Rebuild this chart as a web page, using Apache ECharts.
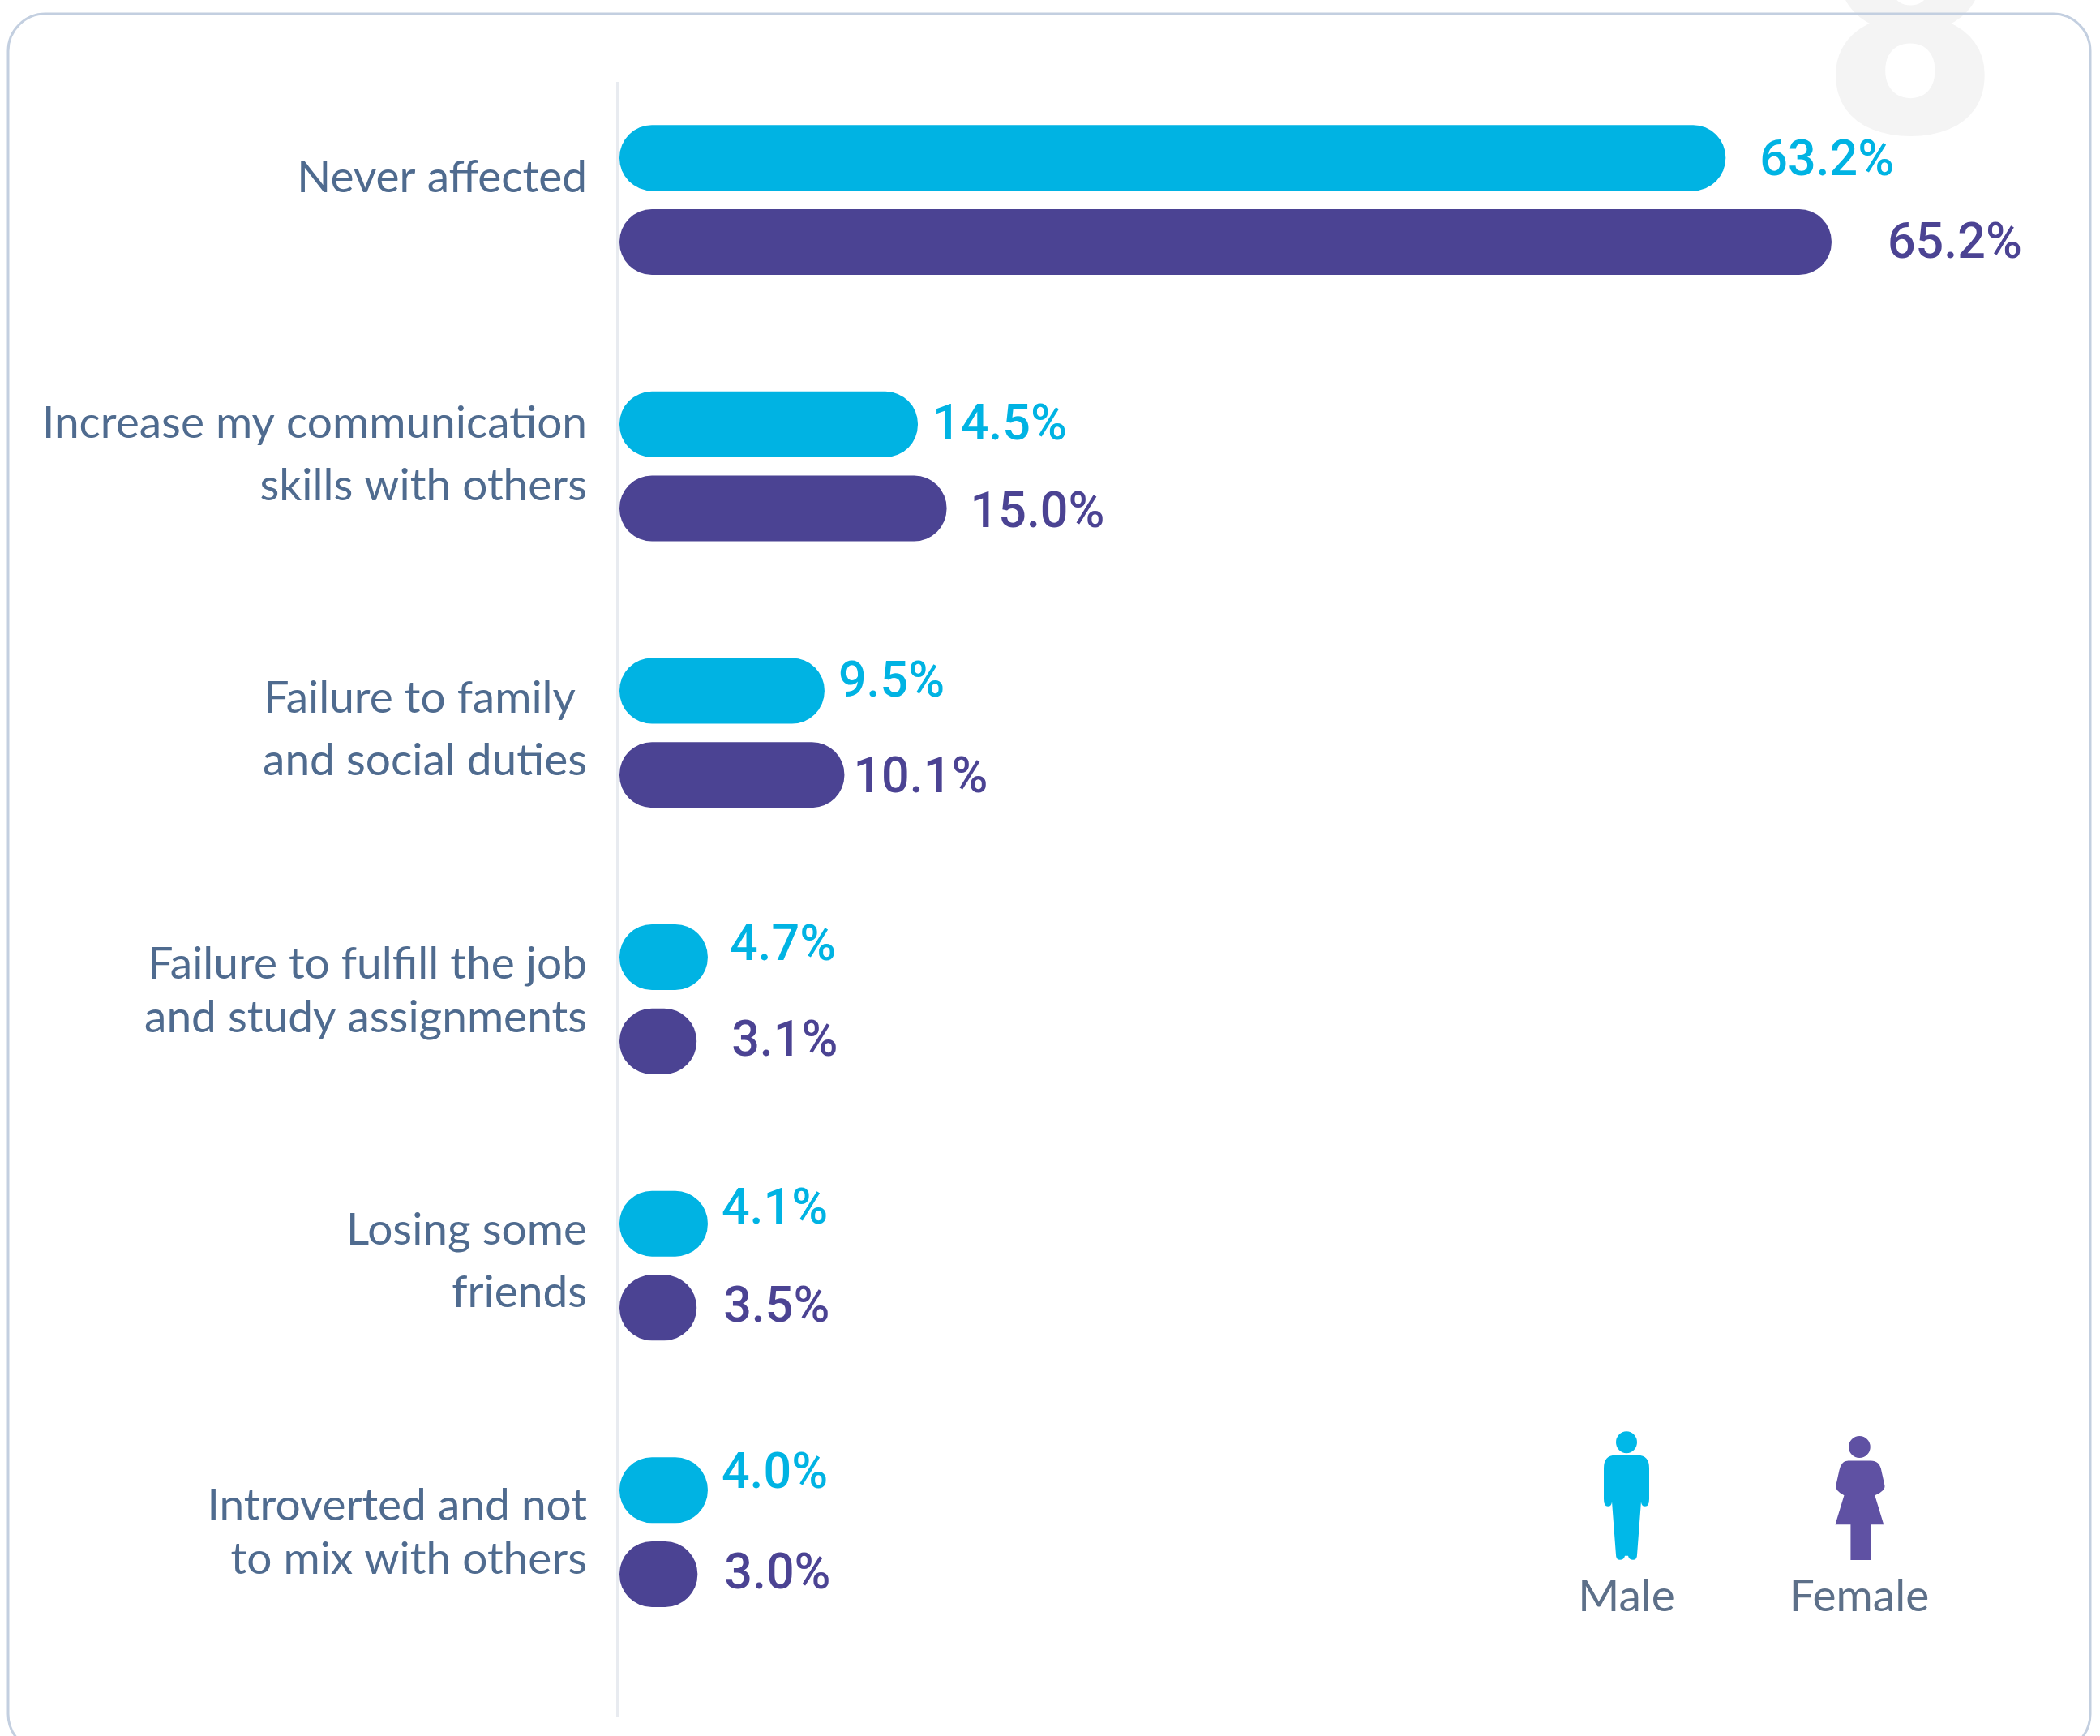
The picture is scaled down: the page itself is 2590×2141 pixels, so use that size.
<!DOCTYPE html>
<html><head><meta charset="utf-8">
<style>html,body{margin:0;padding:0;background:#fff}#c{width:2590px;height:2141px}</style>
<script src="https://cdn.jsdelivr.net/npm/echarts@6/dist/echarts.min.js"></script>
</head><body><div id="c"></div>
<script>
const categories = [
  ['Never affected'],
  ['Increase my communication', 'skills with others'],
  ['Failure to family ', 'and social duties'],
  ['Failure to fulfill the job', 'and study assignments'],
  ['Losing some', 'friends'],
  ['Introverted and not', 'to mix with others']
];
// Printed percentages
const malePercent = [63.2, 14.5, 9.5, 4.7, 4.1, 4.0];
const femalePercent = [65.2, 15.0, 10.1, 3.1, 3.5, 3.0];
// The source's pills are not proportional to their labels: lengths as drawn
const maleDrawnLength = [59.5, 16.05, 11.03, 4.75, 4.75, 4.75];
const femaleDrawnLength = [65.2, 17.6, 12.1, 4.15, 4.15, 4.2];

// Layout only
const maleLabelShift = [[42,6],[18,3],[17,-8],[27,-12],[17,-15],[17,-18]];
const femaleLabelShift = [[69,4],[29,8],[11,6],[43,3],[33,2],[33,2]];
const categoryLineHeight = [60,77,77,66,77,66];
const categoryShift = [-27,-14,-4,-10,-5,1];

const CAT_FONT = 'Lato,sans-serif';
const VAL_FONT = 'Roboto,sans-serif';
const C_MALE = '#00b3e3', C_FEMALE = '#4b4393', C_TEXT = '#4f6b8f';

const rich = {};
categories.forEach((lines, i) => {
  const s = categoryShift[i];
  rich['c' + i] = {
    fontFamily: CAT_FONT, fontSize: 55, color: C_TEXT,
    lineHeight: categoryLineHeight[i], align: 'right',
    padding: s > 0 ? [2 * s, 0, 0, 0] : [0, 0, -2 * s, 0]
  };
});
const catNames = categories.map(l => l.join('\n'));

function seriesData(lengths, pct, shifts) {
  return lengths.map((v, i) => ({
    value: v, percent: pct[i],
    label: {offset: shifts[i]}
  }));
}
function valueSeries(name, color, lengths, pct, shifts) {
  return {
    name, type: 'bar', barWidth: 81, barGap: '28%',
    itemStyle: {color, borderRadius: 40},
    data: seriesData(lengths, pct, shifts),
    label: {
      show: true, position: 'right', distance: 0, color,
      fontFamily: VAL_FONT, fontWeight: 500, fontSize: 61,
      formatter: p => p.data.percent.toFixed(1) + '%'
    }
  };
}

const MALE_ICON = 'path://M13 14A13 13.5 0 1 0-13 14A13 13.5 0 1 0 13 14ZM-14 30L14 30Q28 30 28 46L28 84Q28 93 23 93Q18 93 18 87L13 153Q13 159 8 159Q3 159 2 154L-2 154Q-3 159-8 159Q-13 159-13 153L-18 87Q-18 93-23 93Q-28 93-28 84L-28 46Q-28 30-14 30Z';
const FEMALE_ICON = 'path://M13.4 13A13.4 13.5 0 1 0-13.4 13A13.4 13.5 0 1 0 13.4 13ZM-14 30L14 30Q25 30 27 42L31 60Q33 67 19 73L30 109L14 109L14 153L-11 153L-11 109L-30 109L-19 73Q-31 67-29 60L-25 42Q-23 30-14 30Z';

function legendItem(name, icon, color, left, top, w, h) {
  return {
    data: [name], left, top, padding: 0, itemGap: 0, itemWidth: w, itemHeight: h,
    icon, selectedMode: false, itemStyle: {color, borderWidth: 0},
    formatter: () => '', textStyle: {fontSize: 1, padding: 0}
  };
}

const chart = echarts.init(document.getElementById('c'), null, {renderer: 'canvas', width: 2590, height: 2141});
chart.setOption({
  animation: false,
  backgroundColor: '#ffffff',
  grid: {left: 764, top: 82.3, width: 1605, height: 1971.6, containLabel: false},
  xAxis: {type: 'value', min: 0, max: 70, show: false},
  yAxis: {
    type: 'category', inverse: true, data: catNames,
    axisLine: {show: false}, axisTick: {show: false},
    axisLabel: {
      margin: 40, rich,
      formatter: (v, i) => v.split('\n').map(t => '{c' + i + '|' + t + '}').join('\n')
    }
  },
  legend: [
    legendItem('Male', MALE_ICON, '#00b8e8', 1978, 1765, 56, 159),
    legendItem('Female', FEMALE_ICON, '#5f51a3', 2263, 1771, 62, 153)
  ],
  series: [
    valueSeries('Male', C_MALE, maleDrawnLength, malePercent, maleLabelShift),
    valueSeries('Female', C_FEMALE, femaleDrawnLength, femalePercent, femaleLabelShift)
  ],
  graphic: [
    {type: 'text', z: -10, x: 2356, y: 257,
      style: {text: '8', font: '900 370px Roboto,sans-serif', fill: '#f4f4f4', textAlign: 'center', textVerticalAlign: 'bottom'}},
    {type: 'rect', z: -5, shape: {x: 10, y: 17, width: 2568, height: 2143, r: 46},
      style: {fill: 'transparent', stroke: '#c3cfe0', lineWidth: 3}},
    {type: 'line', z: -4, shape: {x1: 762, y1: 101, x2: 762, y2: 2118},
      style: {stroke: '#e8ebf0', lineWidth: 4}},
    {type: 'text', x: 2006, y: 1969, style: {text: 'Male', font: '55px ' + CAT_FONT, fill: '#5d7089', textAlign: 'center', textVerticalAlign: 'middle'}},
    {type: 'text', x: 2293, y: 1969, style: {text: 'Female', font: '55px ' + CAT_FONT, fill: '#5d7089', textAlign: 'center', textVerticalAlign: 'middle'}}
  ]
});
</script></body></html>
